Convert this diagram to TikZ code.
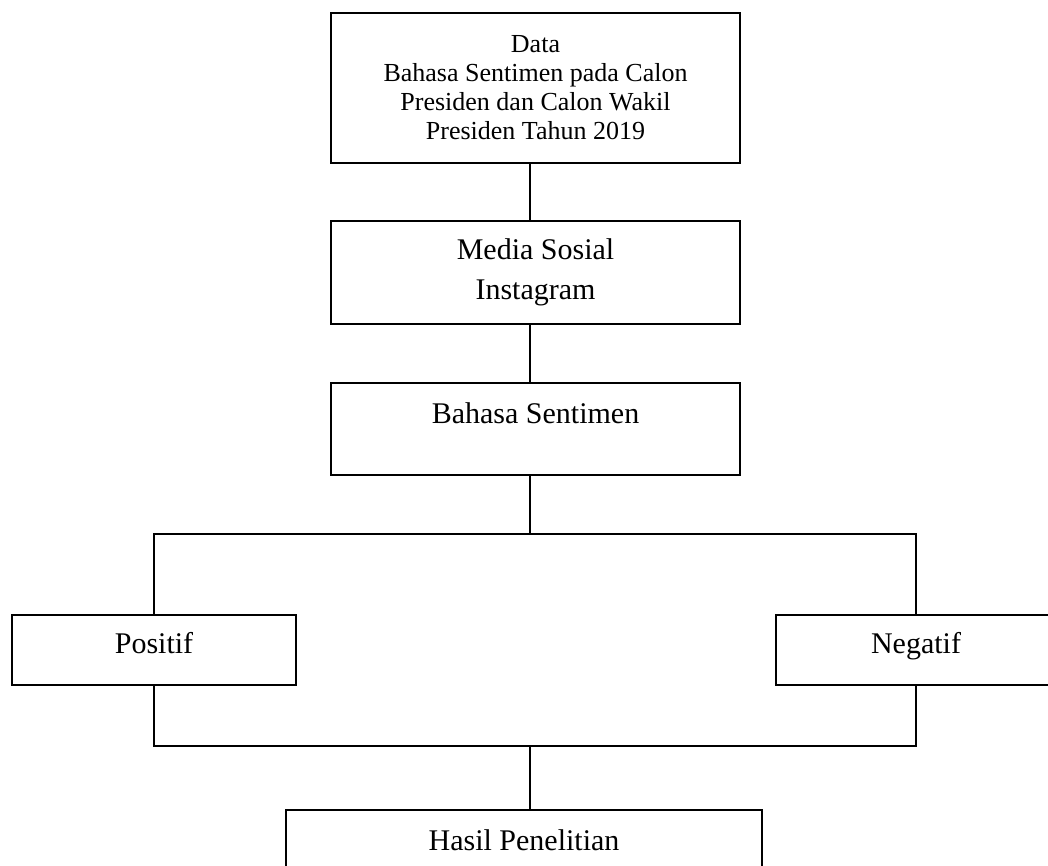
\documentclass[tikz,border=0pt]{standalone}
\usepackage{fontspec}
\setmainfont{Liberation Serif}
\usepackage{tikz}

\begin{document}
\begin{tikzpicture}[x=1pt,y=-1pt,line width=2pt]
  \tikzset{box/.style={draw,rectangle,align=center,font=\fontsize{30}{40}\selectfont}}%plain boxes, no arrows
  \tikzset{side/.style={box,minimum height=70pt,text height=20pt,text depth=14pt}}
\useasboundingbox (0,0) rectangle (1048,866);
\node[box,minimum width=409pt,minimum height=150pt,font=\fontsize{26}{29}\selectfont] (1) at (535.5,88) {Data\\Bahasa Sentimen pada Calon\\Presiden dan Calon Wakil\\Presiden Tahun 2019};
\node[box,minimum width=409pt,minimum height=103pt] (2) at (535.5,272.5) {Media Sosial\\Instagram};
\node[box,minimum width=409pt,minimum height=92pt] (3) at (535.5,429) {\raisebox{32pt}{Bahasa Sentimen}};
\node[side,minimum width=284pt] (4) at (154,650) {Positif};
\node[side,minimum width=280pt] (5) at (916,650) {Negatif};
\node[box,minimum width=476pt,minimum height=60pt] (6) at (524,840) {Hasil Penelitian};
\coordinate (c) at (530,0);
\coordinate (t) at (530,534);
\coordinate (b) at (530,746);
\draw (1.south -| c) -- (2.north -| c);
\draw (2.south -| c) -- (3.north -| c);
\draw (3.south -| c) -- (t);
\draw (4.north) |- (t) -| (5.north);
\draw (4.south) |- (b) -| (5.south);
\draw (b) -- (6.north -| b);
\end{tikzpicture}
\end{document}
